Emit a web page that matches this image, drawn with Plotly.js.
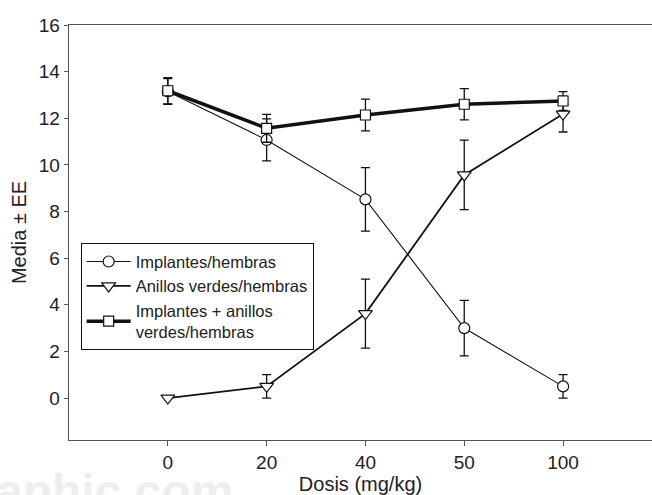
<!DOCTYPE html>
<html>
<head>
<meta charset="utf-8">
<script src="https://cdn.plot.ly/plotly-3.0.1.min.js"></script>
<style>html,body{margin:0;padding:0;background:#fff;}</style>
</head>
<body>
<div id="chart" style="width:652px;height:495px;"></div>
<script>
const doses = ['0', '20', '40', '50', '100'];
const implantes = [13.15, 11.07, 8.52, 3.0, 0.5];
const implantesErr = [0.55, 0.9, 1.36, 1.19, 0.5];
const anillos = [0.0, 0.5, 3.62, 9.57, 12.18];
const anillosErr = [0, 0.5, 1.48, 1.49, 0.77];
const total = [13.18, 11.57, 12.14, 12.6, 12.74];
const totalErr = [0.56, 0.6, 0.68, 0.67, 0.4];
const names = ['Implantes/hembras', 'Anillos verdes/hembras', 'Implantes + anillos<br>verdes/hembras'];

function err(a) { return {type: 'data', array: a, visible: true, color: '#111', thickness: 1.3, width: 4.5}; }

const traces = [
  {x: doses, y: implantes, error_y: err(implantesErr), name: names[0], type: 'scatter', mode: 'lines+markers',
   line: {color: '#111', width: 1.1},
   marker: {symbol: 'circle', size: 11, color: '#fff', line: {color: '#111', width: 1.2}}},
  {x: doses, y: anillos, error_y: err(anillosErr), name: names[1], type: 'scatter', mode: 'lines+markers',
   line: {color: '#111', width: 1.8},
   marker: {symbol: 'triangle-down', size: 12, color: '#fff', line: {color: '#111', width: 1.2}}},
  {x: doses, y: total, error_y: err(totalErr), name: names[2], type: 'scatter', mode: 'lines+markers',
   line: {color: '#111', width: 3.5},
   marker: {symbol: 'square', size: 10, color: '#fff', line: {color: '#111', width: 1.2}}}
];

const layout = {
  width: 652, height: 495,
  margin: {l: 69, r: 0, t: 25, b: 55},
  paper_bgcolor: '#fff', plot_bgcolor: '#fff',
  font: {family: 'Liberation Sans, Arial, sans-serif', color: '#222', size: 19},
  showlegend: true,
  legend: {x: 0.02, y: 0.474, xanchor: 'left', yanchor: 'top', bgcolor: '#fff',
           bordercolor: '#111', borderwidth: 1, font: {size: 16.5, color: '#222'},
           tracegroupgap: 0, itemwidth: 44},
  xaxis: {type: 'category', range: [-1, 4.9], showgrid: false, zeroline: false,
          showline: true, linecolor: '#555', linewidth: 1.3, mirror: true,
          ticks: 'outside', ticklen: 5, tickcolor: '#555', tickwidth: 1,
          tickfont: {size: 19, color: '#222'},
          title: {text: 'Dosis (mg/kg)', font: {size: 20, color: '#222'}, standoff: 0}},
  yaxis: {range: [-1.8, 16], tickvals: [0, 2, 4, 6, 8, 10, 12, 14, 16], showgrid: false, zeroline: false,
          showline: true, linecolor: '#555', linewidth: 1.3, mirror: false,
          ticks: 'outside', ticklen: 4, tickcolor: '#555', tickwidth: 1,
          tickfont: {size: 19, color: '#222'},
          title: {text: 'Media ± EE', font: {size: 20, color: '#222'}, standoff: 6}},
  annotations: [
    {text: '<b>aphic.com</b>', xref: 'paper', yref: 'paper', x: -0.128, y: -0.055,
     xanchor: 'left', yanchor: 'top', showarrow: false,
     font: {size: 48, color: '#eeeeee', family: 'Liberation Sans, Arial, sans-serif'}}
  ]
};

Plotly.newPlot('chart', traces, layout, {displayModeBar: false, staticPlot: true});
</script>
</body>
</html>
